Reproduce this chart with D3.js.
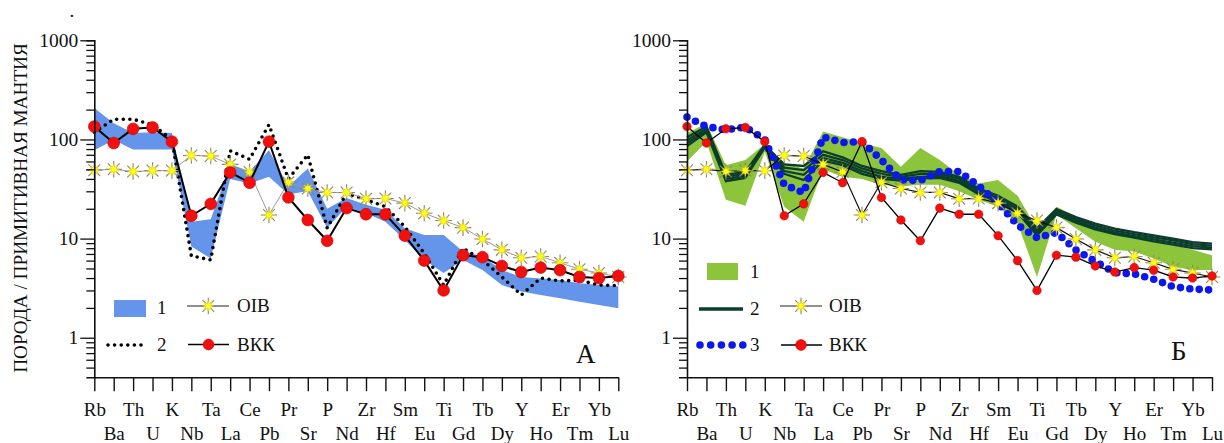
<!DOCTYPE html>
<html><head><meta charset="utf-8">
<script src="https://cdn.jsdelivr.net/npm/d3@7"></script>
</head>
<body style="margin:0;background:#fff">
<svg id="chart" width="1224" height="443"></svg>
<script>
const elements = ["Rb","Ba","Th","U","K","Nb","Ta","La","Ce","Pb","Pr","Sr","P","Nd","Zr","Hf","Sm","Eu","Ti","Gd","Tb","Dy","Y","Ho","Er","Tm","Yb","Lu"];

// reference compositions
const oib = [49,50,47.5,48.5,48.5,69,68,56,47,17.3,37,32,29.2,29.2,25.2,25.4,22.8,18,15.2,12.9,9.9,7.7,6.4,6.6,5.7,4.9,4.5,4.1];
const bkk = [135,92,128,132,95,17,22.4,46.5,36.6,95,26,15.4,9.5,20.3,17.6,17.6,10.7,6.0,3.0,6.8,6.5,5.3,4.6,5.1,4.8,4.1,4.0,4.2];

// panel A
const bandAUpper = [207,146,116,118,116,14.8,15.7,56,47.5,78,33.5,51,20,25.6,21.9,19.5,12.7,10.9,10.9,7.4,6.6,4.83,4.1,3.95,3.83,3.54,3.4,3.3];
const bandALower = [78,99,79,79,79,8.3,6.3,40,36,42,28,30,12.8,21,18,14.8,9.7,6.1,4.5,6.1,4.83,3.4,2.92,2.7,2.5,2.31,2.14,1.98];
const dottedA = [118,160,160,140,100,6.7,6.1,77,63,141,40,70,12.8,28.7,24.6,21,13.2,7.1,3.4,8.0,6.1,4.1,2.7,4.0,3.74,3.8,3.4,3.35];

// panel B
const bandBUpper = [116,145,55,62,90,58,51,120,105,92,82,53,82,62,44,36,39,27,12.5,21,16.7,13.5,11.5,10.5,9.4,8.6,7.7,6.8];
const bandBLower = [60,95,24.6,21.4,75,21,14.8,50,42,40,35,33.5,35,35,30,24.6,21,14.3,4.1,17.4,12.7,9.3,7.7,7.4,6.3,5.2,4.83,4.83];
const darkB1 = [105,135,44,47,88,56,54,76,66,54,48,44,48,47,42,32,27,21,12.8,19.8,16.5,14.2,12.6,11.6,10.8,10.0,9.2,8.9];
const darkB2 = [98,128,42,45,86,52,49,70,62,51,45,42,45,45,40,30.5,25.5,20,12,19,15.8,13.6,12,11.1,10.3,9.6,8.8,8.5];
const darkB3 = [92,122,40,43,84,48,44,65,58,48,42,40,42,43,38,29,24.5,19,11.3,18.2,15.1,12.9,11.5,10.6,9.8,9.1,8.4,8.1];
const darkB4 = [86,118,38,41,83,45,39,61,55,45,40,38.5,40.5,41,36.5,28,23.5,18.3,10.8,17.5,14.5,12.4,11.1,10.2,9.4,8.7,8.0,7.8];
const blueB = [168,135,125,133,100,35,29,106,93,95,62,39,38.5,47.5,47.5,34,22.8,13.7,10.2,11.5,7.7,5.86,4.54,4.4,3.9,3.27,3.1,3.03];

const yMajor = [1,10,100,1000];
const yMajorLabels = ["1","10","100","1000"];
const yMinor = [0.5,0.6,0.7,0.8,0.9,2,3,4,5,6,7,8,9,20,30,40,50,60,70,80,90,200,300,400,500,600,700,800,900];
const yTitle = "ПОРОДА / ПРИМИТИВНАЯ МАНТИЯ";

const FONT = '"Liberation Serif"';
const svg = d3.select("#chart");
const y = d3.scaleLog().domain([0.4,1000]).range([377.2,40.3]);

function txt(g, x, yy, s, size){
  return g.append("text").attr("x",x).attr("y",yy).style("font-family",FONT)
    .style("font-size",size+"px").style("fill","#111").text(s);
}

const starRays = "M0,-8.3L0,8.3M-8.3,0L8.3,0M-5.9,-5.9L5.9,5.9M-5.9,5.9L5.9,-5.9";
function starPoly(ro, ri){
  const pts=[];
  for(let k=0;k<16;k++){const a=Math.PI*k/8 - Math.PI/2; const r=k%2?ri:ro; pts.push([r*Math.cos(a), r*Math.sin(a)]);}
  return "M"+pts.map(p=>p[0].toFixed(2)+","+p[1].toFixed(2)).join("L")+"Z";
}
function drawStar(g, cx, cy){
  const s=g.append("g").attr("transform",`translate(${cx},${cy})`);
  s.append("path").attr("d",starRays).attr("stroke","#8f8566").attr("stroke-width",1.1).attr("fill","none");
  s.append("path").attr("d",starPoly(5.4,2.5)).attr("fill","#ffff1a").attr("stroke","#d4c400").attr("stroke-width",0.5);
}

function drawAxes(g, x){
  const x0 = x(elements[0]);
  const xa = d3.axisBottom(x).tickSize(14).tickSizeOuter(0).tickPadding(0);
  const gx = g.append("g").attr("transform",`translate(0,${y.range()[0]})`).call(xa)
    .attr("font-family",null).attr("font-size",null);
  gx.select(".domain").attr("stroke","#111").attr("stroke-width",1.6);
  gx.selectAll(".tick line").attr("stroke","#111").attr("stroke-width",1.4);
  gx.selectAll(".tick text").style("font-size","19px").style("fill","#111")
    .style("font-family",FONT)
    .attr("dy",null).attr("y",(d,i)=> i%2===0 ? 39 : 63);
  const ya = d3.axisLeft(y).tickValues(yMajor.concat(yMinor)).tickSizeOuter(0).tickSize(8)
    .tickFormat(d=>{const i=yMajor.indexOf(d); return i>=0?yMajorLabels[i]:"";}).tickPadding(8);
  const gy = g.append("g").attr("transform",`translate(${x0},0)`).call(ya)
    .attr("font-family",null).attr("font-size",null);
  gy.select(".domain").attr("stroke","#111").attr("stroke-width",1.6);
  gy.selectAll(".tick line").attr("stroke","#111").attr("stroke-width",1.3)
    .attr("x2",d=> yMajor.indexOf(d)>=0 ? -14 : -8);
  gy.selectAll(".tick text").style("font-size","19.5px").style("fill","#111")
    .style("font-family",FONT).attr("x",-16);
}

function bandPath(x, up, lo){
  const pts = elements.map((e,i)=>[x(e), y(up[i])]).concat(elements.map((e,i)=>[x(e), y(lo[i])]).reverse());
  return "M"+pts.map(p=>p[0].toFixed(2)+","+p[1].toFixed(2)).join("L")+"Z";
}
function lineGen(x){ return d3.line().x((d,i)=>x(elements[i])).y(d=>y(d)); }

// ---------- Panel A ----------
const gA = svg.append("g");
const xA = d3.scalePoint().domain(elements).range([94.3,618.3]);
gA.append("path").attr("d",bandPath(xA,bandAUpper,bandALower)).attr("fill","#6495ea").attr("stroke","none");
gA.append("path").attr("d",lineGen(xA)(dottedA)).attr("fill","none").attr("stroke","#000")
  .attr("stroke-width",3.6).attr("stroke-dasharray","0 6.6").attr("stroke-linecap","round");
gA.append("path").attr("d",lineGen(xA)(oib)).attr("fill","none").attr("stroke","#9a9a9a").attr("stroke-width",1);
oib.forEach((v,i)=>drawStar(gA,xA(elements[i]),y(v)));
gA.append("path").attr("d",lineGen(xA)(bkk)).attr("fill","none").attr("stroke","#000").attr("stroke-width",2);
gA.selectAll("circle.bkk").data(bkk).enter().append("circle").attr("class","bkk")
  .attr("cx",(d,i)=>xA(elements[i])).attr("cy",d=>y(d)).attr("r",5.9)
  .attr("fill","#f2100f").attr("stroke","#c40000").attr("stroke-width",0.6);
drawAxes(gA,xA);

// y title
svg.append("text").attr("transform","translate(27,208) rotate(-90)").attr("text-anchor","middle")
  .style("font-family",FONT).style("font-size","19.2px").style("fill","#111").text(yTitle);
txt(svg,69.5,17,".",19);

// legend A
gA.append("rect").attr("x",114).attr("y",300).attr("width",32).attr("height",17).attr("fill","#6495ea");
txt(gA,157,314,"1",19);
gA.append("line").attr("x1",108).attr("x2",147).attr("y1",345).attr("y2",345).attr("stroke","#000")
  .attr("stroke-width",3.6).attr("stroke-dasharray","0 6.6").attr("stroke-linecap","round");
txt(gA,157,351,"2",19);
gA.append("line").attr("x1",187).attr("x2",229).attr("y1",306).attr("y2",306).attr("stroke","#222").attr("stroke-width",1.2);
drawStar(gA,208.3,306);
txt(gA,237,312,"OIB",19);
gA.append("line").attr("x1",188).attr("x2",229).attr("y1",344.5).attr("y2",344.5).attr("stroke","#000").attr("stroke-width",1.6);
gA.append("circle").attr("cx",208.5).attr("cy",344.5).attr("r",5.4).attr("fill","#f2100f").attr("stroke","#c40000").attr("stroke-width",0.6);
txt(gA,237,351,"ВКК",19);
txt(gA,576,363,"А",27);

// ---------- Panel B ----------
const gB = svg.append("g");
const xB = d3.scalePoint().domain(elements).range([687,1212]);
gB.append("path").attr("d",bandPath(xB,bandBUpper,bandBLower)).attr("fill","#8cc43c").attr("stroke","none");
[darkB1,darkB2,darkB3,darkB4].forEach(s=>{
  gB.append("path").attr("d",lineGen(xB)(s)).attr("fill","none").attr("stroke","#0b3d2c").attr("stroke-width",2.3);
});
gB.append("path").attr("d",lineGen(xB)(blueB)).attr("fill","none").attr("stroke","#0a17f0")
  .attr("stroke-width",7.6).attr("stroke-dasharray","0 9.4").attr("stroke-linecap","round");
gB.append("path").attr("d",lineGen(xB)(oib)).attr("fill","none").attr("stroke","#111").attr("stroke-width",1.2);
oib.forEach((v,i)=>drawStar(gB,xB(elements[i]),y(v)));
gB.append("path").attr("d",lineGen(xB)(bkk)).attr("fill","none").attr("stroke","#000").attr("stroke-width",1.3);
gB.selectAll("circle.bkk").data(bkk).enter().append("circle").attr("class","bkk")
  .attr("cx",(d,i)=>xB(elements[i])).attr("cy",d=>y(d)).attr("r",4.3)
  .attr("fill","#f2100f").attr("stroke","#c40000").attr("stroke-width",0.5);
drawAxes(gB,xB);

// legend B
gB.append("rect").attr("x",707).attr("y",263).attr("width",31).attr("height",17).attr("fill","#8cc43c");
txt(gB,750,278,"1",19);
gB.append("line").attr("x1",699).attr("x2",743).attr("y1",309).attr("y2",309).attr("stroke","#0b3d2c").attr("stroke-width",3.4);
txt(gB,750,315,"2",19);
gB.append("line").attr("x1",700).attr("x2",743).attr("y1",345).attr("y2",345).attr("stroke","#0a17f0")
  .attr("stroke-width",7.6).attr("stroke-dasharray","0 10.7").attr("stroke-linecap","round");
txt(gB,750,351,"3",19);
gB.append("line").attr("x1",780).attr("x2",822).attr("y1",306).attr("y2",306).attr("stroke","#222").attr("stroke-width",1.2);
drawStar(gB,801,306);
txt(gB,829,312,"OIB",19);
gB.append("line").attr("x1",781).attr("x2",822).attr("y1",345).attr("y2",345).attr("stroke","#000").attr("stroke-width",1.6);
gB.append("circle").attr("cx",801).attr("cy",345).attr("r",5.4).attr("fill","#f2100f").attr("stroke","#c40000").attr("stroke-width",0.6);
txt(gB,829,351,"ВКК",19);
txt(gB,1171,360,"Б",27);
</script>
</body></html>
